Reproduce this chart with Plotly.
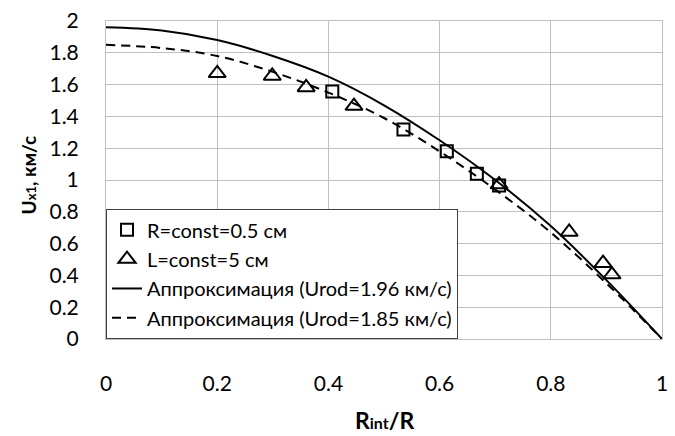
import plotly.graph_objects as go

# Data
r_sq = [0.407, 0.535, 0.613, 0.667, 0.707]
u_sq = [1.556, 1.317, 1.181, 1.039, 0.965]

r_tr = [0.200, 0.299, 0.360, 0.446, 0.707, 0.833, 0.894, 0.910]
u_tr = [1.671, 1.654, 1.582, 1.465, 0.971, 0.673, 0.477, 0.405]

r_fit = [0.0, 0.1, 0.2, 0.3, 0.4, 0.5, 0.6, 0.7, 0.8, 0.9, 1.0]
u_fit_196 = [1.96, 1.94, 1.88, 1.78, 1.65, 1.47, 1.25, 1.00, 0.71, 0.37, 0.0]
u_fit_185 = [1.85, 1.83, 1.78, 1.68, 1.55, 1.39, 1.18, 0.94, 0.67, 0.35, 0.0]

x_ticks = [0, 0.2, 0.4, 0.6, 0.8, 1]
x_ticklabels = ["0", "0.2", "0.4", "0.6", "0.8", "1"]
y_ticks = [0, 0.2, 0.4, 0.6, 0.8, 1, 1.2, 1.4, 1.6, 1.8, 2]
y_ticklabels = ["0", "0.2", "0.4", "0.6", "0.8", "1", "1.2", "1.4", "1.6", "1.8", "2"]

FONT = "Lato"
GRID = "#bfbfbf"


def leg(t):
    return "<span style='font-size:20px'>" + t + "</span>"


fig = go.Figure()
fig.add_trace(go.Scatter(
    x=r_sq, y=u_sq, mode="markers", name=leg("R=const=0.5 см"),
    marker=dict(symbol="square-open", size=12, color="black", line=dict(width=2, color="black")),
))
fig.add_trace(go.Scatter(
    x=r_tr, y=u_tr, mode="markers", name=leg("L=const=5 см"),
    marker=dict(symbol="triangle-up-open", size=15, color="black", line=dict(width=2, color="black")),
))
fig.add_trace(go.Scatter(
    x=r_fit, y=u_fit_196, mode="lines", name=leg("Аппроксимация (Urod=1.96 км/с)"),
    line=dict(color="black", width=2, shape="spline"),
))
fig.add_trace(go.Scatter(
    x=r_fit, y=u_fit_185, mode="lines", name=leg("Аппроксимация (Urod=1.85 км/с)"),
    line=dict(color="black", width=2, dash="9px,6px", shape="spline"),
))

fig.update_layout(
    width=675, height=436,
    margin=dict(l=106, r=7, t=15, b=97),
    paper_bgcolor="white", plot_bgcolor="white",
    font=dict(family=FONT, size=21, color="black"),
    showlegend=True,
    legend=dict(
        x=0, y=0, xanchor="left", yanchor="bottom",
        bgcolor="white", bordercolor="#404040", borderwidth=1,
        font=dict(family=FONT, size=20.3, color="black"),
        tracegroupgap=0, itemwidth=30,
    ),
    xaxis=dict(
        range=[0, 1], tickvals=x_ticks, ticktext=x_ticklabels,
        showgrid=True, gridcolor=GRID, gridwidth=1,
        showline=True, linecolor=GRID, linewidth=1, mirror=True,
        ticks="outside", ticklen=26, tickcolor="rgba(0,0,0,0)",
        zeroline=False, tickfont=dict(family=FONT, size=21),
    ),
    yaxis=dict(
        range=[0, 2], tickvals=y_ticks, ticktext=y_ticklabels,
        showgrid=True, gridcolor=GRID, gridwidth=1,
        showline=True, linecolor=GRID, linewidth=1, mirror=True,
        ticks="outside", ticklen=22, tickcolor="rgba(0,0,0,0)",
        zeroline=False, tickfont=dict(family=FONT, size=21),
    ),
    annotations=[
        dict(text="<b>R<span style='font-size:16px'>int</span>/R</b>",
             xref="paper", yref="paper", x=0.5, y=-0.255, xanchor="center", yanchor="middle",
             showarrow=False, font=dict(family=FONT, size=23)),
        dict(text="<b>U<span style='font-size:13px'>x1</span>, км/с</b>",
             xref="paper", yref="paper", x=-0.14, y=0.515, xanchor="center", yanchor="middle",
             textangle=-90, showarrow=False, font=dict(family=FONT, size=19)),
    ],
)

fig.write_html("out.html")
